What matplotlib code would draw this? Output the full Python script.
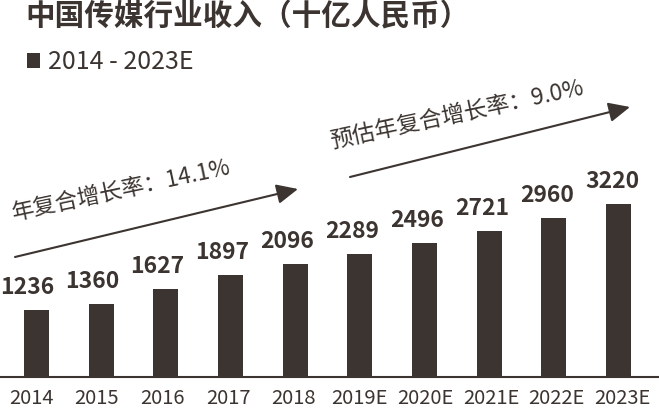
import numpy as np
import matplotlib as mpl
mpl.use('Agg')
from matplotlib import pyplot as plt

plt.rcParams['font.family'] = ['Noto Sans CJK SC', 'DejaVu Sans']

years = ['2014', '2015', '2016', '2017', '2018', '2019E', '2020E', '2021E', '2022E', '2023E']
revenue = [1236, 1360, 1627, 1897, 2096, 2289, 2496, 2721, 2960, 3220]
title = '中国传媒行业收入（十亿人民币）'
series_name = '2014 - 2023E'
cagr_hist = '年复合增长率：14.1%'
cagr_fcst = '预估年复合增长率：9.0%'

col = '#3b3430'

fig = plt.figure(figsize=(6.59, 4.08), dpi=100)
ax = fig.add_axes([0, 31.3/408, 1, 376.7/408])

x = np.arange(len(years))
ax.bar(x, revenue, width=0.387, color=col, label=series_name, zorder=2)

# value labels sit a little left of the bar centres in the original
label_x = x * 1.006 - 0.15
for lx, v in zip(label_x, revenue):
    ax.annotate(f'{v}', (lx, v), xytext=(0, 8), textcoords='offset points',
                ha='center', va='bottom', fontsize=16.5, fontweight='bold', color=col)

ax.set_xlim(-0.564, 9.626)
ax.set_ylim(0, 7024)
ax.set_xticks(x * 1.016 - 0.085)
ax.set_xticklabels(years, fontsize=14.5, color=col)
ax.tick_params(axis='x', length=0, pad=8)
ax.set_yticks([])
for s in ['top', 'left', 'right']:
    ax.spines[s].set_visible(False)
ax.spines['bottom'].set_color(col)
ax.spines['bottom'].set_linewidth(1.5)

fig.text(25/659, 1 - 16/408, title, fontsize=21.3, fontweight='bold', color=col,
         ha='left', va='center')

ax.legend(loc='upper left', bbox_to_anchor=(27/659, 1 - 49/408), bbox_transform=fig.transFigure,
          frameon=False, fontsize=18, handlelength=0.52, handleheight=0.55,
          handletextpad=0.33, borderpad=0, borderaxespad=0, labelcolor=col)

# growth arrows
for (x0, y0), (x1, y1) in [((15, 151), (298, 219)), ((350, 231), (630, 301))]:
    ax.annotate('', xy=(x1, y1), xycoords='figure pixels', xytext=(x0, y0), textcoords='figure pixels',
                arrowprops=dict(arrowstyle='-|>,head_length=0.65,head_width=0.3', mutation_scale=20,
                                color=col, lw=1.5, shrinkA=0, shrinkB=0))

fig.text(13, 188, cagr_hist, transform=None, fontsize=16.3, color=col, rotation=12,
         rotation_mode='anchor', ha='left', va='baseline')
fig.text(332, 260, cagr_fcst, transform=None, fontsize=16.5, color=col, rotation=12,
         rotation_mode='anchor', ha='left', va='baseline')

fig.savefig('out.png', dpi=100)
